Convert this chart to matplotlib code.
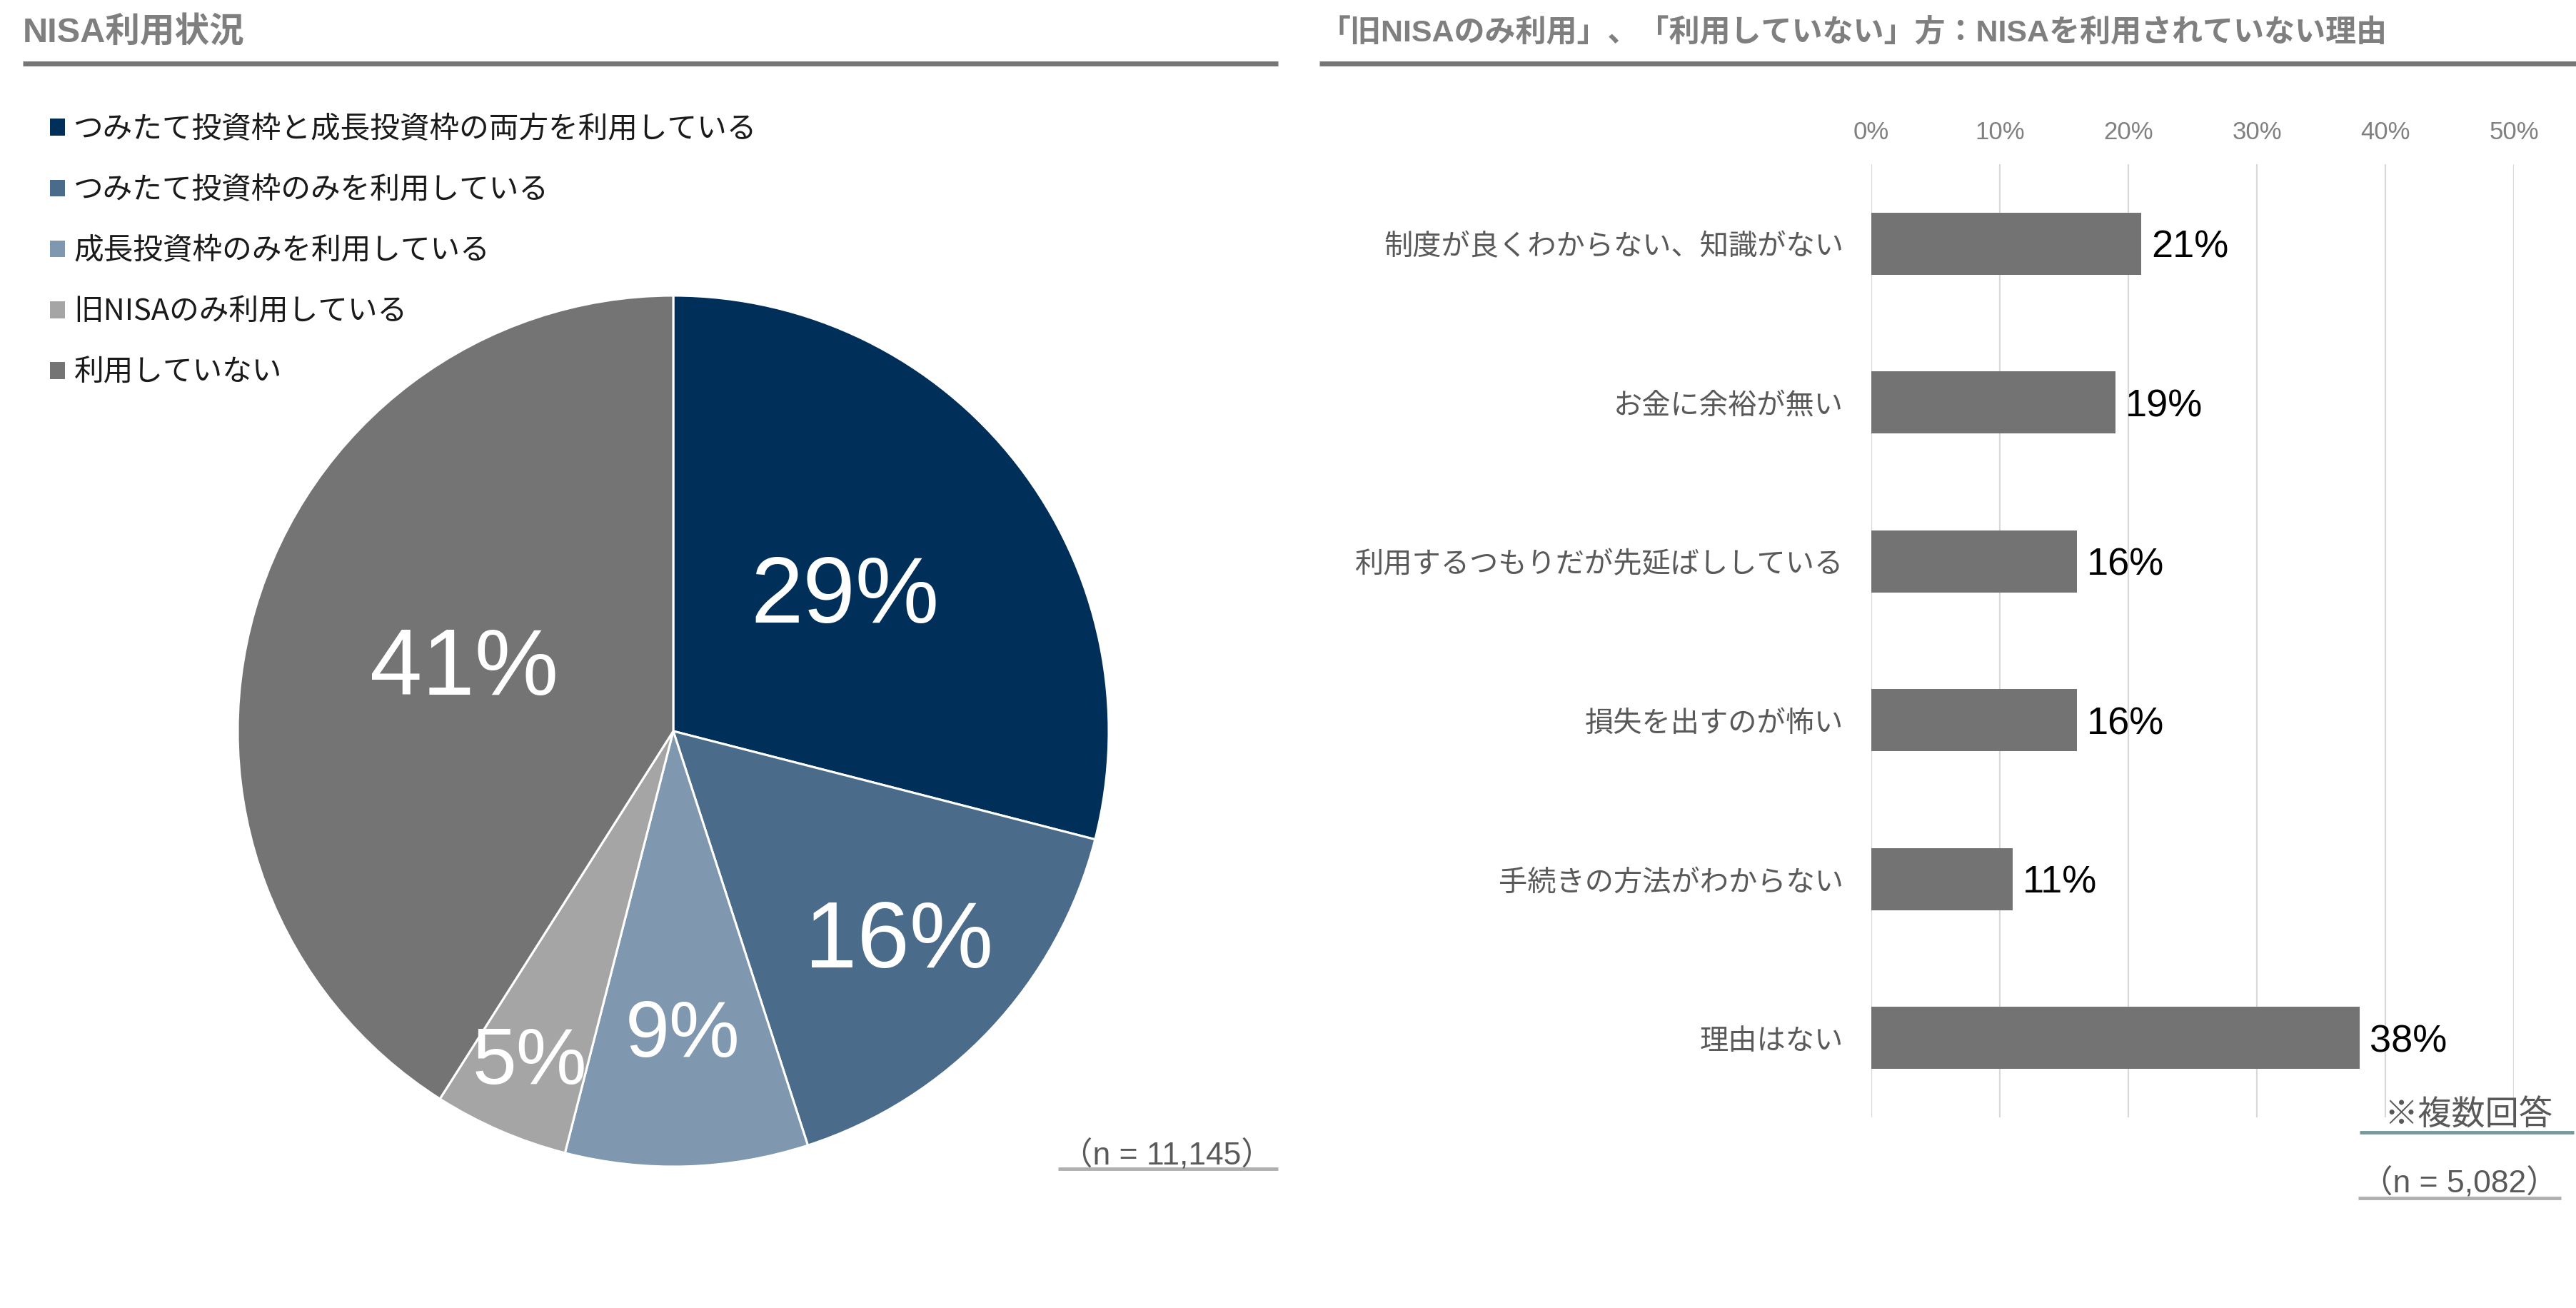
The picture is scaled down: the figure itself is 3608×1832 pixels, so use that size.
import numpy as np
import matplotlib
matplotlib.use('Agg')
import matplotlib.pyplot as plt
from matplotlib.patches import Patch

plt.rcParams['font.family'] = ['Noto Sans CJK JP', 'DejaVu Sans']
LATIN = ['Liberation Sans', 'Noto Sans CJK JP']

# --- data ---
pie_labels = ['つみたて投資枠と成長投資枠の両方を利用している',
              'つみたて投資枠のみを利用している',
              '成長投資枠のみを利用している',
              '旧NISAのみ利用している',
              '利用していない']
pie_values = [29, 16, 9, 5, 41]
pie_colors = ['#002F5A', '#4A6B8A', '#7F97AF', '#A5A5A5', '#747474']

reasons = ['制度が良くわからない、知識がない',
           'お金に余裕が無い',
           '利用するつもりだが先延ばししている',
           '損失を出すのが怖い',
           '手続きの方法がわからない',
           '理由はない']
reason_values = [21, 19, 16, 16, 11, 38]
xticks = [0, 10, 20, 30, 40, 50]

W, H = 3608, 1832
fig = plt.figure(figsize=(W / 100, H / 100), dpi=100)


def fx(px):
    return px / W


def fy(py):
    return 1 - py / H


title_color = '#7F7F7F'
line_color = '#767676'

# --- section headers ---
fig.text(fx(32), fy(46), 'NISA利用状況', family=LATIN, fontweight='bold',
         fontsize=35, color=title_color, va='center', ha='left')
fig.text(fx(1848), fy(46), '「旧NISAのみ利用」、「利用していない」方：NISAを利用されていない理由',
         family=LATIN, fontweight='bold', fontsize=31, color=title_color,
         va='center', ha='left')
for x0, x1 in [(32, 1790), (1848, 3608)]:
    fig.add_artist(plt.Line2D([fx(x0), fx(x1)], [fy(89), fy(89)],
                              color=line_color, lw=5, solid_capstyle='butt'))

# --- pie ---
cx, cy, R = 943, 1024, 610
half = 640
ax1 = fig.add_axes([fx(cx - half), fy(cy + half), 2 * half / W, 2 * half / H])
wedges, _, autotexts = ax1.pie(pie_values, colors=pie_colors, startangle=90,
                               counterclock=False, radius=1,
                               autopct='%d%%', pctdistance=0.6,
                               wedgeprops=dict(edgecolor='white', linewidth=2.2))
ax1.set_xlim(-half / R, half / R)
ax1.set_ylim(-half / R, half / R)
ax1.set_aspect('auto')
ax1.axis('off')

label_r = [0.5, 0.71, 0.70, 0.83, 0.5]
label_fs = [95, 95, 80, 80, 95]
for w, t, r, fs in zip(wedges, autotexts, label_r, label_fs):
    ang = np.deg2rad((w.theta1 + w.theta2) / 2)
    t.set_position((r * np.cos(ang), r * np.sin(ang)))
    t.set_fontsize(fs)
    t.set_color('white')
    t.set_family(LATIN)
    t.set_ha('center')
    t.set_va('center')

handles = [Patch(facecolor=c, edgecolor='none') for c in pie_colors]
fig.legend(handles, pie_labels, loc='upper left',
           bbox_to_anchor=(fx(70), fy(161)), frameon=False, fontsize=30,
           handlelength=0.5, handleheight=0.5, handletextpad=0.3,
           labelspacing=1.06, borderpad=0, borderaxespad=0,
           labelcolor='#1A1A1A')

fig.text(fx(1634), fy(1618), '（n = 11,145）', family=LATIN, fontsize=32,
         color='#595959', ha='center', va='center')
fig.add_artist(plt.Line2D([fx(1482), fx(1790)], [fy(1637), fy(1637)],
                          color='#B0B0B0', lw=3.5, solid_capstyle='butt'))

# --- bar chart ---
ax2 = fig.add_axes([fx(2621), fy(1565), (3521 - 2621) / W, (1565 - 230) / H])
ypos = np.arange(len(reasons))
bars = ax2.barh(ypos, reason_values, height=0.39, color='#737373', zorder=3)
ax2.set_xlim(0, 50)
ax2.set_ylim(len(reasons) - 0.5, -0.5)
ax2.set_xticks(xticks)
ax2.set_xticklabels([f'{v}%' for v in xticks], family=LATIN, fontsize=25,
                    color='#808080')
ax2.xaxis.tick_top()
ax2.tick_params(axis='x', length=0, pad=20)
ax2.set_yticks(ypos)
ax2.set_yticklabels(reasons, fontsize=29, color='#595959')
ax2.tick_params(axis='y', length=0, pad=28)
ax2.grid(axis='x', color='#D9D9D9', lw=1.6, zorder=0)
ax2.set_axisbelow(True)
for s in ax2.spines.values():
    s.set_visible(False)
vlabels = ax2.bar_label(bars, labels=[f'{v}%' for v in reason_values],
                        padding=10, fontsize=39, family=LATIN, color='black')
for t in vlabels:
    t.set_va('center_baseline')

fig.text(fx(3457), fy(1562), '※複数回答', fontsize=34, color='#595959',
         ha='center', va='center')
fig.add_artist(plt.Line2D([fx(3305), fx(3605)], [fy(1586), fy(1586)],
                          color='#7A989C', lw=3.5, solid_capstyle='butt'))
fig.text(fx(3445), fy(1657), '（n = 5,082）', family=LATIN, fontsize=32,
         color='#595959', ha='center', va='center')
fig.add_artist(plt.Line2D([fx(3303), fx(3587)], [fy(1678), fy(1678)],
                          color='#B0B0B0', lw=3.5, solid_capstyle='butt'))

fig.savefig('out.png', dpi=100, facecolor='white')
